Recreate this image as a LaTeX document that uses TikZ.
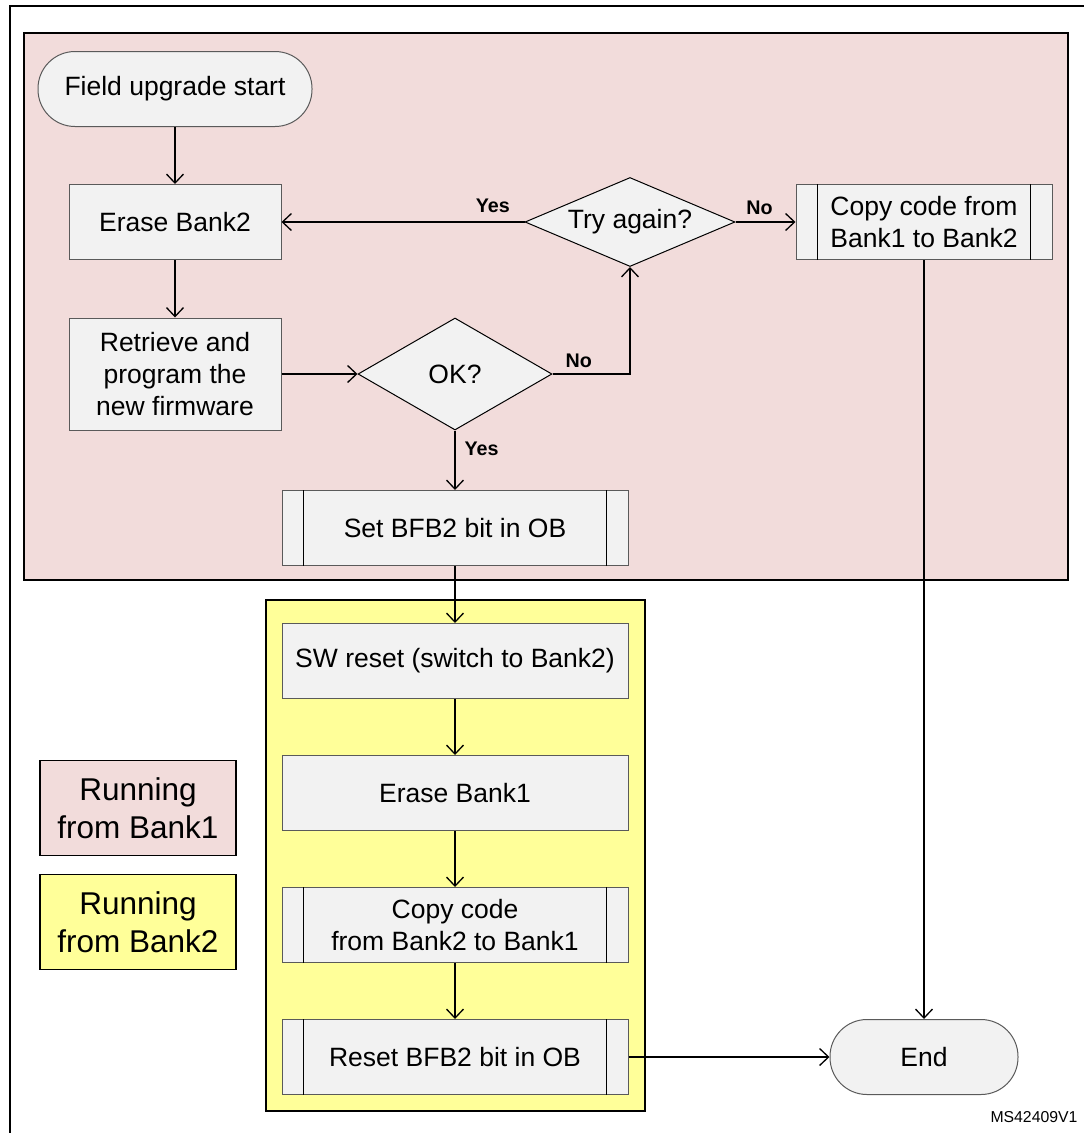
\documentclass[tikz,border=0pt]{standalone}
\usepackage{fontspec}
\setmainfont{Liberation Sans}
\usepackage{tikz}
\usetikzlibrary{shapes.geometric,arrows.meta}
\definecolor{bankonepink}{RGB}{242,220,219}
\definecolor{banktwoyellow}{RGB}{255,255,153}
\definecolor{boxgray}{RGB}{242,242,242}
\definecolor{edgegray}{RGB}{90,90,90}

\newcommand{\boxfont}{\fontsize{26.5}{32}\selectfont}
\newcommand{\lblfont}{\fontsize{19.7}{24}\selectfont\bfseries}
\newcommand{\legfont}{\fontsize{31.5}{38}\selectfont}

% bars of a predefined process box
\newcommand{\procbars}[1]{%
  \draw[line width=1pt] ([xshift=22pt]#1.north west) -- ([xshift=22pt]#1.south west);
  \draw[line width=1pt] ([xshift=-22pt]#1.north east) -- ([xshift=-22pt]#1.south east);}

\tikzset{
  stepbox/.style={draw=edgegray, line width=1pt, fill=boxgray, align=center,
    inner sep=0pt, font=\boxfont, minimum height=75pt},
  terminal/.style={stepbox, rounded corners=37pt},
  decision/.style={diamond, draw=black, line width=1pt, fill=boxgray, inner sep=0pt,
    font=\boxfont},
  flow/.style={line width=1.3pt, -{Straight Barb[length=9pt,width=17pt]}},
  answer/.style={font=\lblfont, inner sep=3pt},
  legendbox/.style={draw=black, line width=1.3pt, align=center, font=\legfont,
    minimum width=196pt, minimum height=95pt}
}

\begin{document}
\begin{tikzpicture}[x=1pt,y=-1pt]

\useasboundingbox (0,0) rectangle (1084,1133);

% Frame and regions
\draw[line width=2pt] (10,1133) -- (10,6) -- (1084,6);
\draw[fill=bankonepink, line width=1.3pt] (24,33) rectangle (1068,580);
\draw[fill=banktwoyellow, line width=1.3pt] (266,600) rectangle (645,1111);

% Steps in Bank1
\node[terminal, minimum width=274pt] (start) at (175,89) {Field upgrade start};
\node[stepbox, minimum width=212pt] (erase2) at (175,222) {Erase Bank2};
\node[stepbox, minimum width=212pt, minimum height=112pt] (retrieve) at (175,374)
  {Retrieve and\\program the\\new firmware};
\node[decision, shape aspect=1.7, minimum width=194pt, minimum height=112pt] (ok) at (455,374) {OK?};
\node[decision, shape aspect=2.4, minimum width=210pt, minimum height=89pt] (try) at (630,222) {Try again?};
\node[stepbox, minimum width=256pt] (copy12) at (924,222) {Copy code from\\Bank1 to Bank2};
\procbars{copy12}
\node[stepbox, minimum width=346pt] (setbfb) at (455,528) {Set BFB2 bit in OB};
\procbars{setbfb}

% Steps in Bank2
\node[stepbox, minimum width=346pt] (swreset) at (455,661) {SW reset (switch to Bank2)};
\node[stepbox, minimum width=346pt] (erase1) at (455,793) {Erase Bank1};
\node[stepbox, minimum width=346pt] (copy21) at (455,925) {Copy code\\from Bank2 to Bank1};
\procbars{copy21}
\node[stepbox, minimum width=346pt] (resetbfb) at (455,1057) {Reset BFB2 bit in OB};
\procbars{resetbfb}
\node[terminal, minimum width=188pt] (end) at (924,1057) {End};

% Connectors
\draw[flow] (start) -- (erase2);
\draw[flow] (erase2) -- (retrieve);
\draw[flow] (retrieve) -- (ok);
\draw[flow] (ok) -- node[answer, right, pos=0.3, xshift=6pt] {Yes} (setbfb);
\draw[flow] (ok.east) -| node[answer, above, pos=0.17, yshift=3pt] {No} (try.south);
\draw[flow] (try.west) -- node[answer, above, pos=0.13, yshift=6pt] {Yes} (erase2.east);
\draw[flow] (try.east) -- node[answer, above, pos=0.4, yshift=4pt] {No} (copy12.west);
\draw[flow] (copy12) -- (end);
\draw[flow] (setbfb) -- (swreset);
\draw[flow] (swreset) -- (erase1);
\draw[flow] (erase1) -- (copy21);
\draw[flow] (copy21) -- (resetbfb);
\draw[flow] (resetbfb) -- (end);

% Legend
\node[legendbox, fill=bankonepink] (legone) at (138,808) {Running\\from Bank1};
\node[legendbox, fill=banktwoyellow] (legtwo) at (138,922) {Running\\from Bank2};

\node[font=\fontsize{15.8}{19}\selectfont, anchor=east] (figid) at (1081,1117) {MS42409V1};

\end{tikzpicture}
\end{document}
